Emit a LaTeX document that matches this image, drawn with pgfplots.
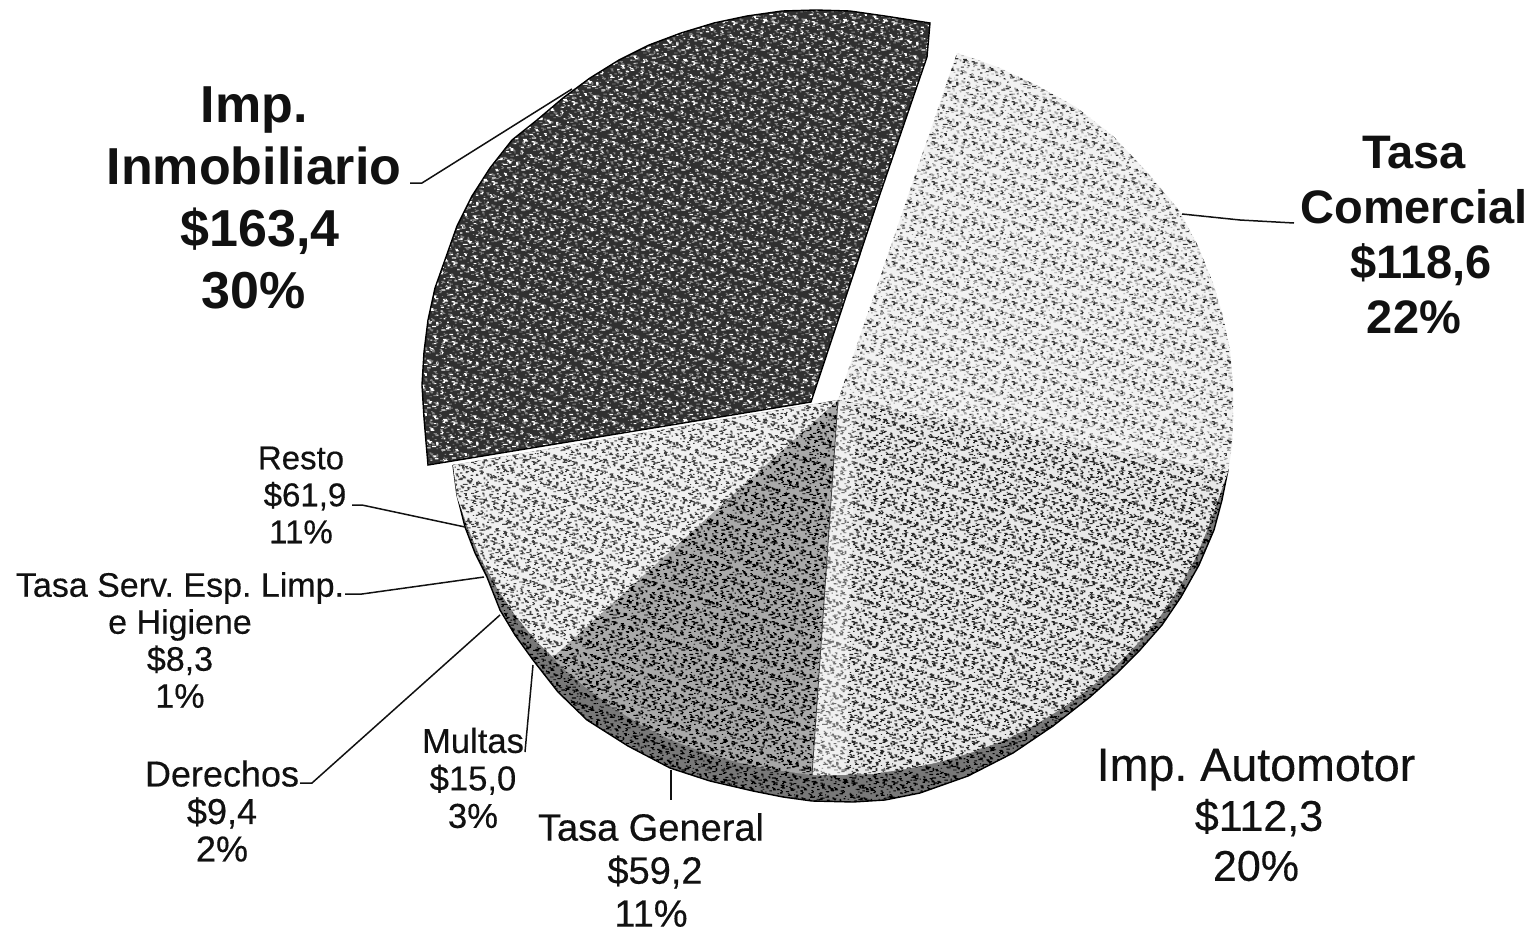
\documentclass[border=0pt]{standalone}
\usepackage{fontspec}
\setmainfont{Liberation Sans}
\newfontfamily\semi[FakeBold=0.35]{Liberation Sans}
\usepackage{pgfplots}
\usepackage{pgfplotstable}
\pgfplotsset{compat=1.18}
\usetikzlibrary{patterns}
\definecolor{ink}{HTML}{111111}
\newcommand{\sd}[3]{\pgfpathrectangle{\pgfpoint{#1pt}{#2pt}}{\pgfpoint{#3pt}{0.6pt}}}
\newcommand{\specks}{%
\sd{0.4}{12.4}{1.6}\sd{3.7}{4.7}{.9}\sd{6.1}{17.1}{2.2}\sd{10.3}{9.4}{1.1}\sd{13.9}{1.8}{1.8}\sd{17.2}{14.2}{1.4}%
\sd{1.9}{6.5}{.8}\sd{4.8}{18.9}{1.9}\sd{8.8}{11.2}{1.2}\sd{11.7}{3.6}{2.4}\sd{15.6}{16}{1}\sd{18.4}{8.3}{1.2}%
\sd{.7}{.7}{2}\sd{3.9}{13.1}{1}\sd{7.3}{5.4}{1.5}\sd{10.1}{17.8}{.8}\sd{13.2}{10.1}{1.7}\sd{16.4}{2.5}{2.1}%
\sd{1.4}{14.9}{1.1}\sd{5.2}{7.2}{2.3}\sd{8.6}{19.2}{.9}\sd{11.3}{12}{1.6}\sd{14.8}{4.3}{1.3}\sd{17.9}{16.7}{1.7}%
\sd{.2}{9}{1.3}\sd{3.1}{1.4}{1.7}\sd{6.7}{13.8}{1}\sd{9.4}{6.1}{2.2}\sd{12.9}{18.5}{.9}\sd{15.7}{10.8}{1.9}\sd{18.6}{3.2}{1}%
\sd{2}{15.6}{2.1}\sd{5.6}{7.9}{.9}\sd{8.1}{.3}{1.4}\sd{11.2}{12.7}{1.1}\sd{14.1}{5}{2.3}\sd{17.4}{17.4}{1}%
\sd{.9}{9.7}{1}\sd{3.8}{2.1}{1.8}\sd{7}{14.5}{2}\sd{10.4}{6.8}{1.3}\sd{13}{19.2}{.8}\sd{15.5}{11.6}{1.6}\sd{18.5}{3.9}{1.2}%
\sd{1.6}{16.3}{1.9}\sd{4.9}{8.6}{1}\sd{7.9}{1}{1.2}\sd{10.6}{13.4}{2}\sd{13.8}{5.7}{1.4}\sd{16.7}{18.1}{2}%
\sd{.3}{10.4}{1.1}\sd{3}{2.8}{.8}\sd{6}{15.2}{1.5}\sd{9.1}{7.5}{.7}\sd{12.2}{19.3}{1.3}\sd{15}{12.3}{.9}\sd{18.5}{4.6}{1.1}%
\pgfusepath{fill}}
\pgfdeclarepatternformonly{speckA}{\pgfqpoint{0pt}{0pt}}{\pgfqpoint{20pt}{20pt}}{\pgfqpoint{20pt}{20pt}}{\specks}
\pgfdeclarepatternformonly{speckB}{\pgfqpoint{0pt}{0pt}}{\pgfqpoint{15.7pt}{15.7pt}}{\pgfqpoint{15.7pt}{15.7pt}}{\pgftransformscale{.785}\specks}

\pgfplotstableread{
x y
838 400
957 53
978 60
1000 68
1038 86
1076 107
1113 136
1147 172
1179 210
1198 246
1213 283
1223 316
1230 350
1233 385
1233 420
1232 446
1228 472
}\tabCom
\pgfplotstableread{
x y
838 400
1228 472
1219 497
1208 528
1195 559
1179 588
1161 615
1140 641
1117 665
1091 687
1064 707
1035 725
1005 740
973 752
940 762
906 769
872 774
838 775
812 775
}\tabAut
\pgfplotstableread{
x y
838 400
812 775
804 774
769 769
736 762
703 752
671 740
641 725
612 707
585 687
559 665
553 657
}\tabGen
\pgfplotstableread{
x y
838 400
553 657
536 641
515 615
497 588
481 559
468 528
457 497
453 465
}\tabRest
\pgfplotstableread{
x y
838 400
1228 470
1222 500
1214 530
1199 565
1181 597
1162 625
1140 650
1116 674
1090 697
1053 726
1013 753
968 776
920 793
885 800
853 802
812 801
783 797
753 791
710 781
670 768
628 746
587 720
558 692
533 660
515 635
500 610
487 577
475 553
465 527
457 495
453 465
}\tabSide
\pgfplotstableread{
x y
811 402
878 200
927 57
930 23
885 16
850 11
816 10
782 11
747 16
714 23
681 33
649 45
619 60
590 78
563 98
537 120
512 140
490 168
472 196
457 226
446 257
435 288
428 320
424 352
422 385
424 418
426 442
428 465
}\tabInm

\newcommand{\lbl}[6]{\node[text=ink,align=center,anchor=center,inner sep=0pt,font=\frenchspacing\fontsize{#3}{#4}\selectfont#5] at (axis cs:#1,#2) {#6};}
\newcommand{\layertwo}[4]{%
\addplot[draw=none,no marks,fill=#2] table {#1} -- cycle;
\addplot[draw=none,no marks,pattern=speckA,pattern color=#3] table {#1} -- cycle;
\addplot[draw=none,no marks,pattern=speckB,pattern color=#4] table {#1} -- cycle;
}
\begin{document}
\begin{tikzpicture}
\begin{axis}[
  scale only axis, width=769.5pt, height=466pt,
  xmin=0, xmax=1539, ymin=0, ymax=932, y dir=reverse,
  hide axis, clip=false]
\addplot[draw=none,no marks,fill=white] coordinates {(0,0)(1539,0)(1539,932)(0,932)} -- cycle;
% side band
\layertwo{\tabSide}{black!53}{black}{black}
\addplot[draw=black,line width=.7pt,no marks] table {\tabSide};
% wedges
\layertwo{\tabCom}{black!5}{black!80}{black!35}
\layertwo{\tabAut}{black!9}{black!85}{black!85}
\addplot[draw=none,no marks,fill=white,fill opacity=.35] coordinates {(838,402)(812,775)(846,775)(856,410)} -- cycle;
\layertwo{\tabGen}{black!34}{black}{black}
\layertwo{\tabRest}{black!6}{black!75}{black!75}
\addplot[draw=black!75,line width=.4pt,no marks] coordinates {(838,400)(812,775)};
\layertwo{\tabInm}{black!81}{white}{gray}
\addplot[draw=black,line width=.7pt,no marks] table {\tabInm} -- cycle;
% leader lines
\addplot[ink,line width=.75pt,no marks] coordinates {(410,183)(422,183)(572,89)};
\addplot[ink,line width=.75pt,no marks] coordinates {(1182,214)(1240,220)(1294,223)};
\addplot[ink,line width=.75pt,no marks] coordinates {(352,505)(362,505)(465,527)};
\addplot[ink,line width=.75pt,no marks] coordinates {(345,594)(362,594)(484,577)};
\addplot[ink,line width=.75pt,no marks] coordinates {(300,783)(312,783)(500,615)};
\addplot[ink,line width=.75pt,no marks] coordinates {(525,752)(533,665)};
\addplot[ink,line width=.75pt,no marks] coordinates {(671,770)(671,800)};
% labels
\lbl{254}{198}{26}{31}{\bfseries}{Imp.\\Inmobiliario\\\hspace*{6pt}\$163,4\\30\%}
\lbl{1414}{235}{23.5}{27.5}{\bfseries}{Tasa\\Comercial\\\hspace*{7pt}\$118,6\\22\%}
\lbl{1256}{815}{23.3}{25}{\semi}{Imp. Automotor\\{\fontsize{21.5}{25}\selectfont\hspace*{3pt}\$112,3}\\{\fontsize{21.5}{25}\selectfont 20\%}}
\lbl{651}{870}{19}{21.5}{\semi}{Tasa General\\\hspace*{4pt}\$59,2\\11\%}
\lbl{301}{495}{16.5}{18.5}{\semi}{Resto\\\hspace*{4pt}\$61,9\\11\%}
\lbl{180}{640}{17}{18.5}{\semi}{Tasa Serv. Esp. Limp.\\e Higiene\\\$8,3\\1\%}
\lbl{222}{811}{18}{18.75}{\semi}{Derechos\\\$9,4\\2\%}
\lbl{473}{778}{17.3}{18.75}{\semi}{Multas\\\$15,0\\3\%}
\end{axis}
\end{tikzpicture}
\end{document}
